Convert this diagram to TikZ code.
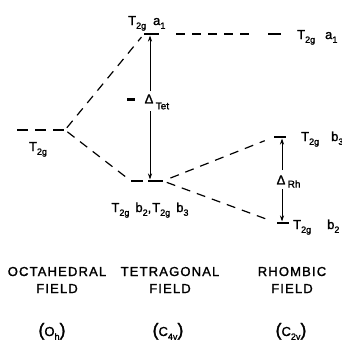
\documentclass[tikz,border=0pt]{standalone}
\usepackage{fontspec}
\setmainfont{Liberation Sans}[UprightFeatures={FakeBold=1.5}]
\usetikzlibrary{arrows.meta}
\newcommand{\sbs}[1]{\raisebox{-0.55ex}{\fontsize{9}{9}\selectfont #1}}
\newcommand{\Tgg}{T\sbs{2g}}
\newcommand{\bigp}[1]{{\fontsize{18}{18}\selectfont #1}}
\begin{document}
\begin{tikzpicture}[x=1pt,y=-1pt,
  level/.style={line width=2.4pt},
  conn/.style={line width=1.2pt, dash pattern=on 9pt off 7pt},
  arr/.style={line width=0.9pt,-{Stealth[length=6pt,width=4pt]}},
  lab/.style={font=\fontsize{13}{13}\selectfont, inner sep=0pt},
  captxt/.style={font=\fontsize{13}{17}\selectfont\addfontfeature{LetterSpace=9}, inner sep=0pt, align=center}]
\useasboundingbox (0,0) rectangle (342,343);

% octahedral level
\coordinate (oL) at (17,130);
\coordinate (oR) at (65,130);
\draw[line width=2.4pt, dash pattern=on 11pt off 7pt] (oL) -- (oR);

% tetragonal levels
\coordinate (aL) at (144,34);
\coordinate (aR) at (159,34);
\coordinate (aM) at (150,35.5);
\draw[level] (aL) -- (aR);
\coordinate (bL) at (131,181);
\coordinate (bL2) at (143,181);
\coordinate (bR2) at (148,181);
\coordinate (bR) at (163,181);
\coordinate (bM) at (150,179.5);
\draw[level] (bL) -- (bL2);
\draw[level] (bR2) -- (bR);

% rhombic levels
\coordinate (raL) at (268,34);
\coordinate (raR) at (281,34);
\draw[level] (raL) -- (raR);
\coordinate (r3L) at (274,137);
\coordinate (r3R) at (286,137);
\coordinate (r3M) at (282,138.5);
\draw[level] (r3L) -- (r3R);
\coordinate (r2L) at (277,223);
\coordinate (r2R) at (289,223);
\coordinate (r2M) at (282,221.5);
\draw[level] (r2L) -- (r2R);

% correlation lines
\draw[conn, shorten >=4pt, shorten <=3pt] (oR) -- (aL);
\draw[conn, shorten >=3pt, shorten <=3pt] (oR) -- (bL);
\draw[conn, shorten >=14pt, shorten <=17pt] (aR) -- (raL);
\draw[conn, shorten >=10pt, shorten <=8pt] (bR) -- (r3L);
\draw[conn, shorten >=10pt, shorten <=4pt] (bR) -- (r2L);

% Delta Tet
\node[lab] (dT) at (149,99) {Δ};
\node[lab, anchor=west, font=\fontsize{10}{10}\selectfont] (dTs) at ([xshift=2pt,yshift=-7pt]dT.east) {Tet};
\coordinate (tTop) at (150,91);
\coordinate (tBot) at (150,111);
\draw[arr] (tTop) -- (aM);
\draw[arr] (tBot) -- (bM);
\coordinate (mL) at (127,99);
\coordinate (mR) at (135,99);
\draw[line width=3pt] (mL) -- (mR);

% Delta Rh
\node[lab] (dR) at (281,180) {Δ};
\node[lab, anchor=west, font=\fontsize{10}{10}\selectfont] (dRs) at ([xshift=2pt,yshift=-4pt]dR.east) {Rh};
\coordinate (rTop) at (282,170);
\coordinate (rBot) at (282,189);
\draw[arr] (rTop) -- (r3M);
\draw[arr] (rBot) -- (r2M);

% level labels
\node[lab, anchor=base west] (la) at (128,25) {\Tgg\hspace{7pt}a\sbs{1}};
\node[lab, anchor=base] (lo) at (38,151) {\Tgg};
\node[lab, anchor=base] (lb) at (150,212) {\Tgg\hspace{6pt}b\sbs{2},\hspace{1pt}\Tgg\hspace{6pt}b\sbs{3}};
\node[lab, anchor=base west] (lra) at (297,39) {\Tgg\hspace{10pt}a\sbs{1}};
\node[lab, anchor=base west] (lr3) at (301,141) {\Tgg\hspace{12pt}b\sbs{3}};
\node[lab, anchor=base west] (lr2) at (293,229) {\Tgg\hspace{16pt}b\sbs{2}};

% captions
\node[captxt, anchor=base] (c1) at (57,293) {OCTAHEDRAL\\FIELD};
\node[captxt, anchor=base] (c2) at (170,293) {TETRAGONAL\\FIELD};
\node[captxt, anchor=base] (c3) at (292,293) {RHOMBIC\\FIELD};
\node[lab, anchor=base] (s1) at (52,336) {\bigp{(}O\sbs{h}\bigp{)}};
\node[lab, anchor=base] (s2) at (168,336) {\bigp{(}C\sbs{4v}\bigp{)}};
\node[lab, anchor=base] (s3) at (291,336) {\bigp{(}C\sbs{2v}\bigp{)}};
\end{tikzpicture}
\end{document}
